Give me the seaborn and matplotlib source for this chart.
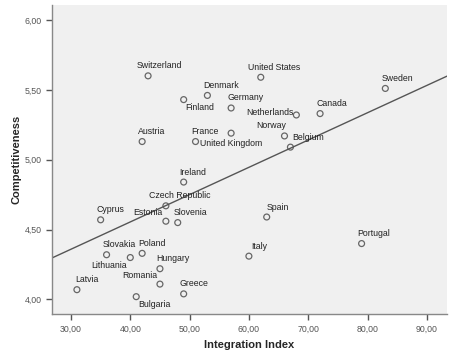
import numpy as np
import pandas as pd
import seaborn as sns
import matplotlib.pyplot as plt
from matplotlib.ticker import FuncFormatter

countries = ['Switzerland', 'United States', 'Sweden', 'Denmark', 'Finland', 'Germany',
             'Netherlands', 'Canada', 'Austria', 'France', 'United Kingdom', 'Norway',
             'Belgium', 'Ireland', 'Czech Republic', 'Cyprus', 'Estonia', 'Slovenia',
             'Spain', 'Portugal', 'Slovakia', 'Poland', 'Lithuania', 'Hungary', 'Italy',
             'Romania', 'Latvia', 'Greece', 'Bulgaria']
integration = [43, 62, 83, 53, 49, 57, 68, 72, 42, 51, 57, 66, 67, 49, 46, 35, 46, 48,
               63, 79, 36, 42, 40, 45, 60, 45, 31, 49, 41]
competitiveness = [5.60, 5.59, 5.51, 5.46, 5.43, 5.37, 5.32, 5.33, 5.13, 5.13, 5.19, 5.17,
                   5.09, 4.84, 4.67, 4.57, 4.56, 4.55, 4.59, 4.40, 4.32, 4.33, 4.30, 4.22,
                   4.31, 4.11, 4.07, 4.04, 4.02]

# label placement (pixel offsets from the point, alignment)
label_pos = {
    'Switzerland': (-11, 10, 'left'), 'United States': (-13, 10, 'left'),
    'Finland': (2, -8, 'left'), 'United Kingdom': (0, -10, 'center'),
    'Netherlands': (-3, 2, 'right'), 'Norway': (2, 10, 'right'),
    'Estonia': (-3, 9, 'right'), 'Lithuania': (-3, -8, 'right'),
    'Romania': (-3, 9, 'right'), 'Bulgaria': (2, -8, 'left'),
    'Czech Republic': (-17, 10, 'left'), 'Belgium': (2, 10, 'left'),
    'Italy': (2, 10, 'left'), 'Spain': (0, 10, 'left'), 'Latvia': (-2, 10, 'left'),
}

df = pd.DataFrame({'country': countries, 'x': integration, 'y': competitiveness})

sns.set_style('white')
plt.rcParams['font.family'] = ['Liberation Sans', 'DejaVu Sans']

fig = plt.figure(figsize=(4.53, 3.63), dpi=100)
ax = fig.add_axes([52 / 453, 1 - 314 / 363, 395 / 453, 309 / 363])
ax.set_facecolor('#f0f0f0')
ax.set_xlim(26.8, 93.4)
ax.set_ylim(3.896, 6.107)

sns.regplot(data=df, x='x', y='y', ax=ax, ci=None, truncate=False,
            scatter_kws={'s': 18, 'facecolors': 'none', 'edgecolors': '#444444', 'linewidths': 0.9},
            line_kws={'color': '#555555', 'lw': 1.0})

for c, xv, yv in zip(countries, integration, competitiveness):
    dx, dy, ha = label_pos.get(c, (-4, 10, 'left'))
    ax.annotate(c, (xv, yv), xytext=(dx, dy), textcoords='offset pixels',
                ha=ha, va='center', fontsize=6.3, color='#222222')

ax.set_xticks([30, 40, 50, 60, 70, 80, 90])
ax.set_yticks([4.0, 4.5, 5.0, 5.5, 6.0])
fmt = FuncFormatter(lambda v, p: f'{v:.2f}'.replace('.', ','))
ax.xaxis.set_major_formatter(fmt)
ax.yaxis.set_major_formatter(fmt)
ax.tick_params(axis='both', labelsize=6.3, colors='#555555', length=4, width=1,
               direction='out', left=True, bottom=True)
for s in ['top', 'right']:
    ax.spines[s].set_visible(False)
for s in ['left', 'bottom']:
    ax.spines[s].set_color('#888888')
    ax.spines[s].set_linewidth(1)

ax.set_xlabel('Integration Index', fontsize=8, fontweight='bold', labelpad=5)
ax.set_ylabel('Competitiveness', fontsize=8, fontweight='bold', labelpad=2)

plt.savefig('out.png', dpi=100)
